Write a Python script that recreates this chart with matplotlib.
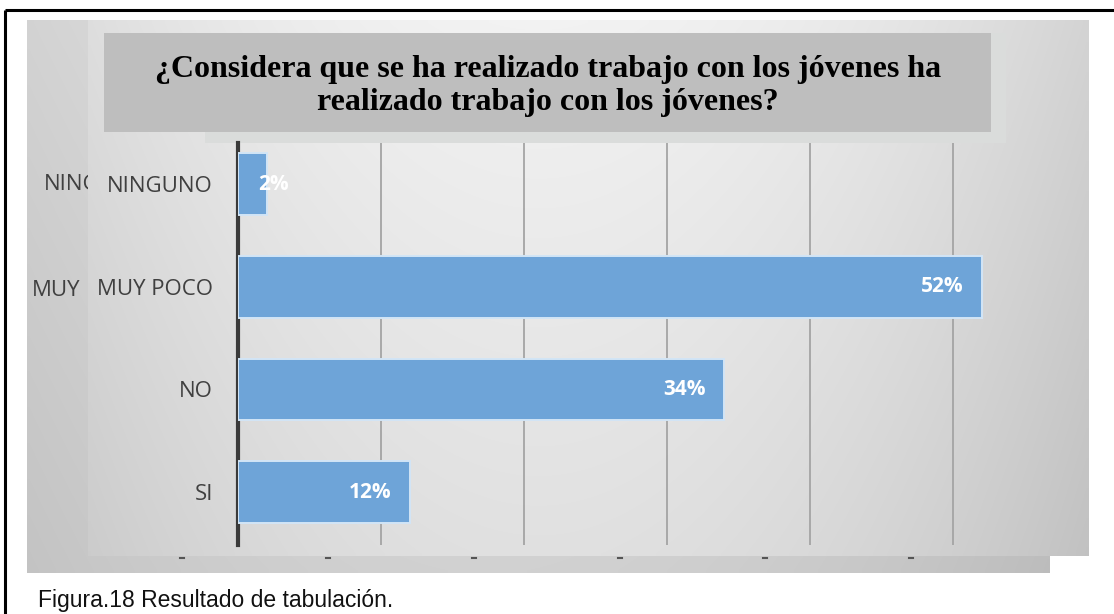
import numpy as np
import matplotlib
matplotlib.use("Agg")
import matplotlib.pyplot as plt
from matplotlib.patches import Rectangle

# Survey results
categories = ["SI", "NO", "MUY POCO", "NINGUNO"]
percentages = [12, 34, 52, 2]
value_labels = ["12%", "34%", "52%", "2%"]
grid_ticks = [10, 20, 30, 40, 50]

title = "¿Considera que se ha realizado trabajo con los jóvenes ha\nrealizado trabajo con los jóvenes?"
caption = "Figura.18 Resultado de tabulación."

W, H = 1114, 614
fig = plt.figure(figsize=(W / 100, H / 100), dpi=100)
fig.patch.set_facecolor("white")

# Background canvas in pixel coordinates (origin top-left)
bg = fig.add_axes([0, 0, 1, 1])
bg.set_xlim(0, W)
bg.set_ylim(H, 0)
bg.axis("off")


def shaded_panel(ax, x0, x1, y0, y1, top, edge, bottom_drop, z):
    nx, ny = 200, 100
    xs = np.linspace(0, 1, nx)
    ys = np.linspace(0, 1, ny)
    X, Y = np.meshgrid(xs, ys)
    v = top - edge * ((X - 0.45) / 0.55) ** 2 - bottom_drop * Y
    img = np.dstack([v, v, v])
    ax.imshow(np.clip(img, 0, 1), extent=(x0, x1, y1, y0), aspect="auto",
              interpolation="bilinear", zorder=z)


# back panel: the visible start of its labels, and its tick marks
shaded_panel(bg, 27, 1050, 20, 573, 0.88, 0.08, 0.06, 0)
bg.text(44, 185, "NING", family="Open Sans", fontsize=16, color="#404040",
        va="center", ha="left", zorder=1)
bg.text(32, 290, "MUY", family="Open Sans", fontsize=16, color="#404040",
        va="center", ha="left", zorder=1)
for tx in [182, 328, 474, 620, 765, 911]:
    bg.plot([tx - 2, tx + 2], [558, 558], color="#555555", lw=1.5, zorder=1)

# front panel (covers the back labels from x = 88 on)
shaded_panel(bg, 88, 1089, 20, 556, 0.95, 0.12, 0.07, 2)

# title boxes
bg.add_patch(Rectangle((205, 33), 801, 110, facecolor="#dadcdb", edgecolor="none", zorder=3))
bg.add_patch(Rectangle((104, 33), 887, 99, facecolor="#bebebe", edgecolor="none", zorder=4))
bg.text(548, 86, title, family="Liberation Serif", fontweight="bold", fontsize=23,
        ha="center", va="center", color="black", linespacing=1.22, zorder=5)

# frame lines and caption
bg.plot([5, W], [10, 10], color="black", lw=2.2, zorder=6, solid_capstyle="butt")
bg.plot([5, 5], [10, H], color="black", lw=2.2, zorder=6, solid_capstyle="butt")
bg.text(38, 601, caption, family="Liberation Sans", fontsize=16.5, color="#111111",
        ha="left", va="center", zorder=6)

# bar chart
ax_l, ax_r, ax_t, ax_b = 238, 1010, 143, 545
ax = fig.add_axes([ax_l / W, 1 - ax_b / H, (ax_r - ax_l) / W, (ax_b - ax_t) / H])
ax.patch.set_alpha(0)
px_per_pct = (982 - 238) / 52
ax.set_xlim(0, (ax_r - ax_l) / px_per_pct)
ax.set_ylim(-0.516, 3.4)

y = np.arange(len(categories))
ax.barh(y, percentages, height=0.6, color="#6ea4d8", edgecolor="#d2e5f6",
        linewidth=1.4, zorder=3)
for yi, val, lab in zip(y, percentages, value_labels):
    if val < 5:
        # too narrow for an inside label: let it spill past the bar end
        ax.text(val - 0.6, yi, lab, ha="left", va="center", color="white",
                family="Open Sans", fontweight="bold", fontsize=15, zorder=4)
    else:
        ax.text(val - 1.3, yi, lab, ha="right", va="center", color="white",
                family="Open Sans", fontweight="bold", fontsize=15, zorder=4)

ax.set_xticks(grid_ticks)
ax.set_xticklabels([])
ax.tick_params(axis="x", length=0)
ax.grid(axis="x", color="#a4a4a4", lw=1.3, zorder=1)
ax.set_axisbelow(True)

ax.set_yticks(y)
ax.set_yticklabels(categories, family="Open Sans", fontsize=16, color="#404040")
ax.tick_params(axis="y", length=0, pad=18)

for s in ["top", "right", "bottom"]:
    ax.spines[s].set_visible(False)
ax.spines["left"].set_color("#3a3a3a")
ax.spines["left"].set_linewidth(3)

fig.savefig("out.png", dpi=100)
